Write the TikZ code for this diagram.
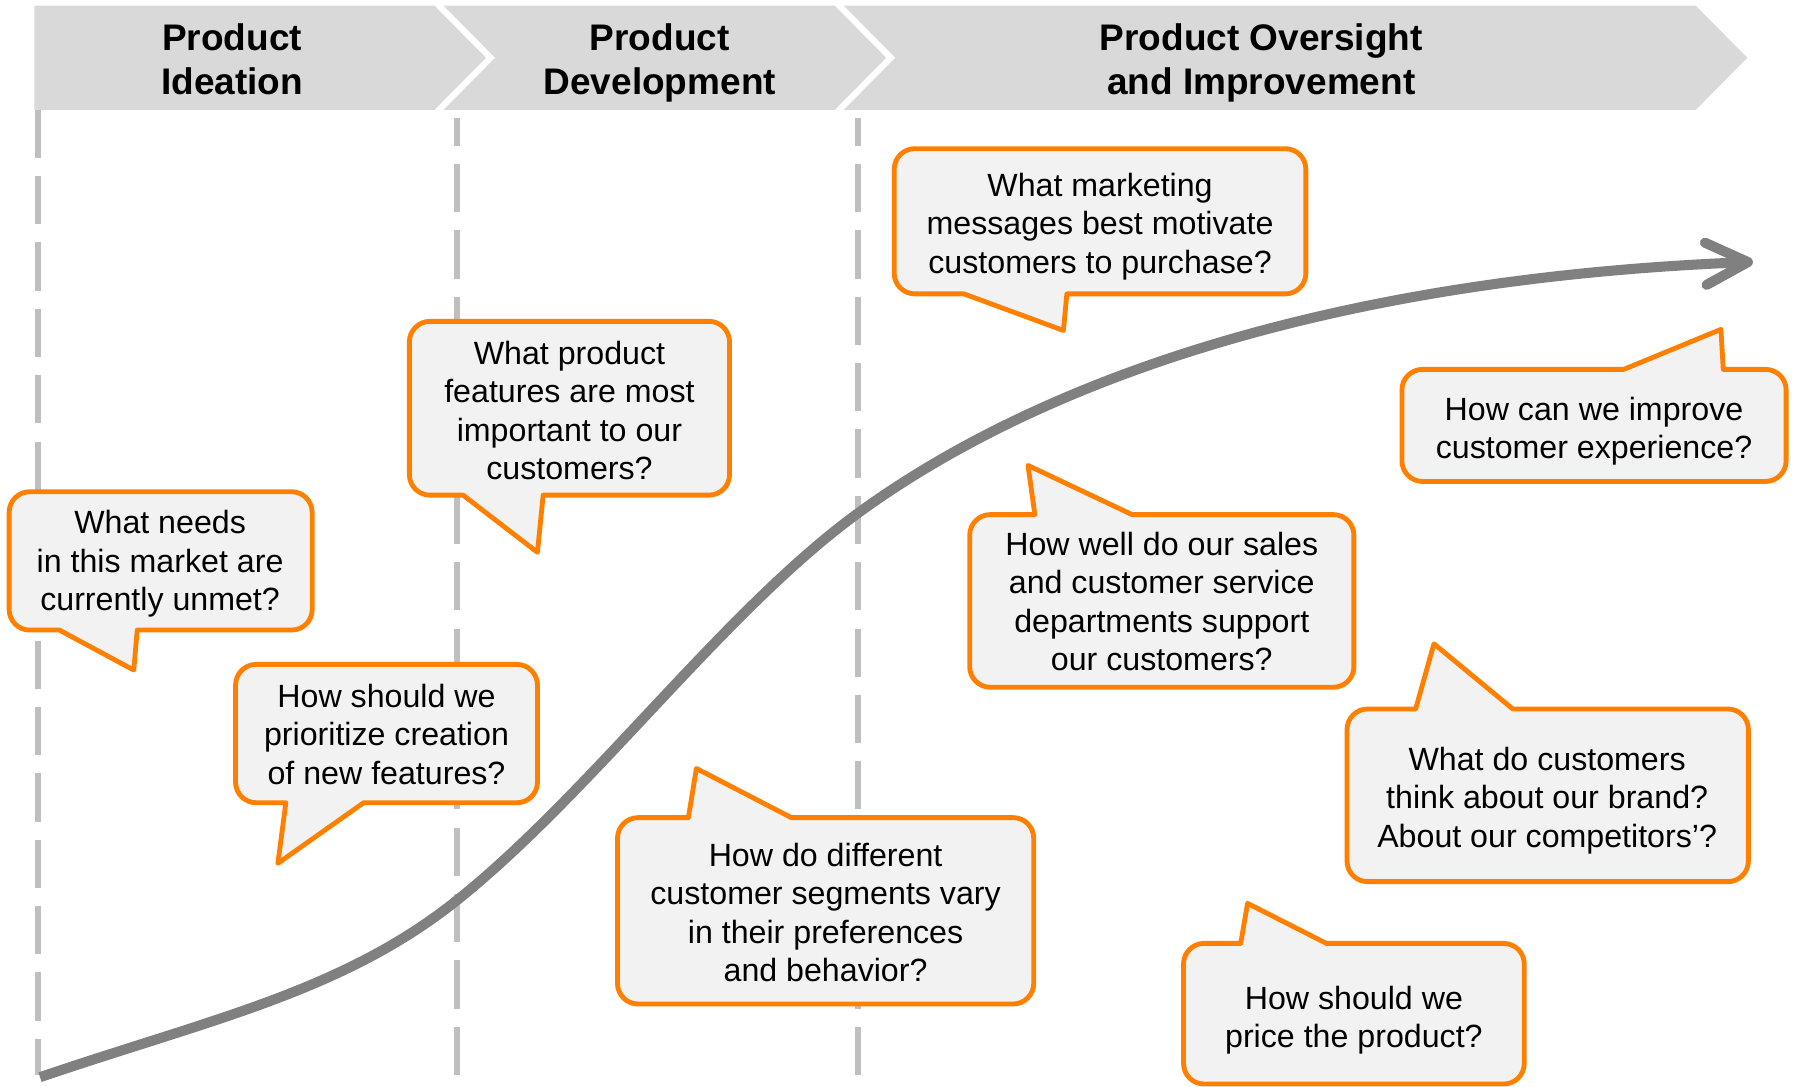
\documentclass[tikz,border=0pt]{standalone}
\usepackage{fontspec}
\setmainfont{Liberation Sans}
\usetikzlibrary{arrows.meta}
\definecolor{bubbleorange}{RGB}{255,128,0}
\definecolor{bubblefill}{RGB}{242,242,242}
\definecolor{bandgray}{RGB}{217,217,217}
\definecolor{guidegray}{RGB}{191,191,191}
\definecolor{curvegray}{RGB}{128,128,128}
\tikzset{
	bubble/.style={draw=bubbleorange, fill=bubblefill, line width=1.2pt, line join=round},
	question/.style={align=center, font=\fontsize{8}{9.6}\selectfont},
	phase/.style={align=center, font=\fontsize{9.2}{10.8}\selectfont\bfseries},
	guide/.style={draw=guidegray, line width=1.5pt, dash pattern=on 12pt off 4.5pt},
}
\begin{document}
\begin{tikzpicture}[x=0.01cm, y=-0.01cm]
	\useasboundingbox (0,0) rectangle (1568,950);
	% Phases
	\fill[bandgray] (30,5) -- (380,5) -- (425,50.5) -- (380,96) -- (30,96) -- cycle;
	\fill[bandgray] (388,5) -- (730,5) -- (775,50.5) -- (730,96) -- (388,96) -- (433,50.5) -- cycle;
	\fill[bandgray] (738,5) -- (1483,5) -- (1528,50.5) -- (1483,96) -- (738,96) -- (783,50.5) -- cycle;
	\node[phase] (pIdeation) at (203,52) {Product\\Ideation};
	\node[phase] (pDevelopment) at (577,55) {Product\\Development};
	\node[phase] (pOversight) at (1103,55) {Product Oversight\\and Improvement};

	% Guides
	\draw[guide] (33,96) -- (33,940);
	\draw[guide, dash phase=5pt] (400,103) -- (400,940);
	\draw[guide, dash phase=5pt] (750,103) -- (750,940);

	% Curve
	\draw[curvegray, line width=2.5pt, -{Straight Barb[length=10.5pt, width=10.5pt, round]}]
		(35,942) .. controls (185,891) and (300,867) .. (400,787)
		.. controls (517,693.4) and (633,534.4) .. (750,449)
		.. controls (890,346.8) and (1133,245) .. (1533,229);

	% Ideation
	\draw[bubble] (120,551) [rounded corners=0.18cm] -- (273,551) -- (273,430) -- (8,430) -- (8,551) [sharp corners] -- (52,551) -- (117,586) -- cycle;
	\node[question] (qUnmet) at (140,493) {What needs\\in this market are\\currently unmet?};
	\draw[bubble] (318,702) [rounded corners=0.18cm] -- (470,702) -- (470,581) -- (206,581) -- (206,702) [sharp corners] -- (250,702) -- (243,755) -- cycle;
	\node[question] (qPrioritize) at (338,642) {How should we\\prioritize creation\\of new features?};

	% Development
	\draw[bubble] (475,433) [rounded corners=0.18cm] -- (638,433) -- (638,281) -- (358,281) -- (358,433) [sharp corners] -- (405,433) -- (470,483) -- cycle;
	\node[question] (qFeatures) at (498,359) {What product\\features are most\\important to our\\customers?};
	\draw[bubble] (692,715) [rounded corners=0.18cm] -- (904,715) -- (904,878) -- (540,878) -- (540,715) [sharp corners] -- (602,715) -- (609,672) -- cycle;
	\node[question] (qSegments) at (722,798) {How do different\\customer segments vary\\in their preferences\\and behavior?};

	% Oversight and improvement
	\draw[bubble] (933,257) [rounded corners=0.18cm] -- (1142,257) -- (1142,130) -- (782,130) -- (782,257) [sharp corners] -- (843,257) -- (930,289) -- cycle;
	\node[question] (qMessages) at (962,198) {What marketing\\messages best motivate\\customers to purchase?};
	\draw[bubble] (1507,323) [rounded corners=0.18cm] -- (1562,323) -- (1562,421) -- (1226,421) -- (1226,323) [sharp corners] -- (1420,323) -- (1505,288) -- cycle;
	\node[question] (qExperience) at (1394,377) {How can we improve\\customer experience?};
	\draw[bubble] (990,450) [rounded corners=0.18cm] -- (1184,450) -- (1184,601) -- (848,601) -- (848,450) [sharp corners] -- (905,450) -- (899,407) -- cycle;
	\node[question] (qSupport) at (1016,526) {How well do our sales\\and customer service\\departments support\\our customers?};
	\draw[bubble] (1323,620) [rounded corners=0.18cm] -- (1529,620) -- (1529,771) -- (1178,771) -- (1178,620) [sharp corners] -- (1238,620) -- (1254,563) -- cycle;
	\node[question] (qBrand) at (1353,700) {What do customers\\think about our brand?\\About our competitors’?};
	\draw[bubble] (1160,825) [rounded corners=0.18cm] -- (1333,825) -- (1333,948) -- (1035,948) -- (1035,825) [sharp corners] -- (1085,825) -- (1091,790) -- cycle;
	\node[question] (qPrice) at (1184,892) {How should we\\price the product?};
\end{tikzpicture}
\end{document}
